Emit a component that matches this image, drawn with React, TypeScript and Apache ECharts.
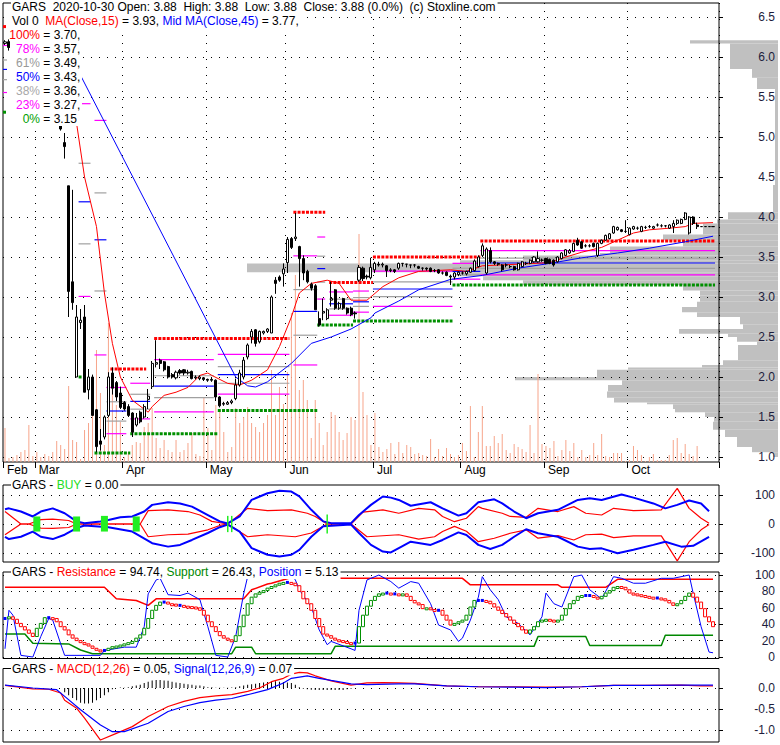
import React, { useEffect, useRef } from 'react';
import * as echarts from 'echarts';

const FONT = '"Liberation Sans", Arial, sans-serif';

const monthNames = ['Feb', 'Mar', 'Apr', 'May', 'Jun', 'Jul', 'Aug', 'Sep', 'Oct'];
const monthTradingDays = [8, 22, 21, 20, 22, 22, 21, 21, 22];

// [open, close, low, high]
const ohlc: number[][] = [
  [6.17,6.19,6.15,6.21],[6.19,6.12,6.08,6.22],[6.12,6.15,6.05,6.18],[6.15,6.05,6.0,6.16],[6.05,5.95,5.9,6.08],
  [5.95,5.8,5.72,5.98],[5.8,5.62,5.55,5.85],[5.62,5.7,5.5,5.75],[5.7,5.75,5.6,5.85],[5.75,5.65,5.6,5.8],
  [5.65,5.7,5.55,5.75],[5.7,5.55,5.5,5.72],[5.55,5.4,5.3,5.58],[5.4,5.3,5.2,5.45],[5.15,5.1,5.08,5.17],
  [4.93,4.88,4.73,5.05],[4.39,3.07,2.75,4.39],[3.19,2.93,2.84,4.34],[2.0,2.75,2.0,2.9],[2.68,2.71,2.6,2.85],
  [2.75,1.81,1.81,2.9],[1.84,2.0,1.72,2.1],[2.0,1.52,1.52,2.03],[1.59,1.13,1.06,1.6],[1.2,1.16,1.08,1.35],
  [1.25,1.5,1.22,1.52],[1.52,2.0,1.5,2.06],[2.05,1.86,1.78,2.12],[1.93,1.75,1.7,1.95],[1.8,1.62,1.6,1.88],
  [1.68,1.6,1.58,1.7],[1.63,1.52,1.5,1.66],[1.55,1.31,1.25,1.56],[1.4,1.49,1.38,1.55],[1.56,1.44,1.42,1.58],
  [1.5,1.63,1.48,1.66],[1.72,1.76,1.6,1.85],[1.88,2.17,1.85,2.2],[2.16,2.18,2.12,2.46],[2.21,2.17,2.1,2.23],
  [2.19,2.09,2.07,2.2],[2.13,2.0,1.98,2.14],[2.03,2.0,1.98,2.05],[1.99,2.06,1.97,2.08],[2.08,2.05,2.03,2.1],
  [2.09,2.05,2.02,2.1],[2.05,2.06,2.03,2.09],[2.07,1.98,1.97,2.08],[1.99,2.0,1.97,2.02],[1.98,2.0,1.96,2.02],
  [1.99,1.97,1.95,2.0],[1.97,1.96,1.94,1.98],[1.97,1.96,1.94,1.99],[1.96,1.75,1.7,1.97],[1.75,1.64,1.62,1.76],
  [1.66,1.67,1.64,1.69],[1.66,1.68,1.65,1.7],[1.68,1.7,1.66,1.72],[1.73,1.9,1.71,1.98],[1.9,2.05,1.88,2.09],
  [2.0,2.21,1.97,2.25],[2.25,2.4,2.22,2.42],[2.5,2.57,2.42,2.6],[2.59,2.42,2.38,2.6],[2.44,2.57,2.42,2.58],
  [2.55,2.57,2.53,2.58],[2.57,2.6,2.55,2.61],[2.55,3.0,2.55,3.02],[3.21,3.17,3.04,3.25],[3.25,3.21,3.19,3.27],
  [3.29,3.35,3.13,3.42],[3.43,3.72,3.3,3.75],[3.73,3.62,3.6,3.75],[3.73,3.75,3.7,4.05],[3.63,3.48,3.13,3.64],
  [3.48,3.3,3.21,3.52],[3.32,3.19,3.17,3.34],[3.16,3.11,3.08,3.18],[3.14,2.84,2.84,3.16],[2.73,2.65,2.63,2.82],
  [2.8,2.82,2.71,2.98],[2.73,2.84,2.71,2.86],[2.96,2.98,2.88,3.19],[3.09,2.86,2.84,3.1],[2.86,2.92,2.84,2.94],
  [2.98,2.86,2.84,2.99],[2.86,2.8,2.78,2.87],[2.86,2.78,2.76,2.88],[2.8,2.79,2.73,2.82],[3.21,3.37,3.19,3.4],
  [3.36,3.23,3.2,3.38],[3.26,3.25,3.22,3.28],[3.24,3.37,3.22,3.49],[3.34,3.42,3.3,3.44],[3.41,3.4,3.38,3.44],
  [3.4,3.41,3.37,3.43],[3.39,3.33,3.25,3.4],[3.33,3.34,3.31,3.36],[3.34,3.32,3.3,3.35],[3.36,3.42,3.34,3.43],
  [3.42,3.42,3.38,3.42],[3.41,3.41,3.37,3.41],[3.4,3.4,3.36,3.4],[3.4,3.4,3.37,3.41],[3.38,3.36,3.35,3.39],
  [3.36,3.36,3.33,3.37],[3.36,3.35,3.33,3.37],[3.36,3.32,3.31,3.37],[3.33,3.33,3.31,3.35],[3.34,3.3,3.29,3.35],
  [3.3,3.3,3.28,3.32],[3.31,3.27,3.26,3.32],[3.26,3.25,3.15,3.28],[3.25,3.3,3.22,3.31],[3.28,3.31,3.26,3.32],
  [3.3,3.3,3.28,3.32],[3.29,3.32,3.27,3.33],[3.31,3.36,3.3,3.37],[3.33,3.45,3.32,3.47],[3.38,3.5,3.37,3.52],
  [3.52,3.64,3.5,3.67],[3.3,3.6,3.28,3.62],[3.58,3.44,3.42,3.62],[3.44,3.42,3.4,3.45],[3.42,3.41,3.39,3.43],
  [3.4,3.34,3.32,3.41],[3.4,3.4,3.37,3.42],[3.38,3.38,3.36,3.4],[3.38,3.34,3.33,3.39],[3.34,3.42,3.33,3.43],
  [3.38,3.44,3.37,3.45],[3.42,3.42,3.4,3.44],[3.42,3.46,3.41,3.47],[3.44,3.5,3.43,3.51],[3.44,3.48,3.43,3.57],
  [3.46,3.46,3.44,3.48],[3.48,3.42,3.41,3.49],[3.47,3.42,3.41,3.48],[3.46,3.4,3.38,3.47],[3.44,3.5,3.43,3.51],
  [3.48,3.55,3.47,3.56],[3.52,3.59,3.51,3.6],[3.55,3.58,3.54,3.6],[3.57,3.67,3.56,3.68],[3.71,3.65,3.64,3.74],
  [3.69,3.61,3.6,3.7],[3.64,3.64,3.62,3.66],[3.64,3.64,3.62,3.66],[3.67,3.63,3.62,3.68],[3.52,3.67,3.5,3.68],
  [3.67,3.71,3.66,3.72],[3.71,3.77,3.7,3.78],[3.73,3.79,3.72,3.8],[3.8,3.88,3.79,3.89],[3.84,3.87,3.83,3.88],
  [3.84,3.82,3.81,3.85],[3.82,3.82,3.8,3.96],[3.78,3.86,3.77,3.87],[3.85,3.88,3.84,3.89],[3.86,3.86,3.84,3.88],
  [3.82,3.88,3.81,3.89],[3.87,3.87,3.85,3.89],[3.88,3.88,3.86,3.9],[3.86,3.88,3.85,3.89],[3.9,3.9,3.88,3.92],
  [3.89,3.89,3.87,3.91],[3.89,3.89,3.87,3.9],[3.86,3.9,3.85,3.91],[3.88,3.92,3.8,3.96],[3.92,3.96,3.9,3.97],
  [3.92,3.97,3.91,3.98],[3.97,4.05,3.96,4.06],[3.8,4.0,3.78,4.01],[4.0,3.92,3.9,4.01],[3.9,3.88,3.85,3.93],
  [3.88,3.88,3.88,3.88],[3.88,3.88,3.88,3.88],[3.88,3.88,3.88,3.88],[3.88,3.88,3.88,3.88],
];

// daily volume (thousand shares)
const volume: number[] = [
  34,4,5,7,10,12,37,6,10,5, 8,6,10,21,17,13,76,22,20,3,
  32,39,85,112,69,17,139,93,57,40, 5,10,17,20,19,35,39,54,24,14,
  22,12,10,22,10,12,19,29,8,6, 64,34,12,57,52,30,10,15,54,39,
  45,55,39,35,30,39,47,92,47,75, 58,90,149,187,72,82,62,24,62,39,
  17,30,50,47,30,22,29,45,42,228, 70,47,17,49,15,10,13,19,
  8,20,9,17,15,8,9,7,6,23, 5,13,6,14,8,5,7,19,11,56,
  5,30,56,16,16,26,19,28,12,9, 18,15,13,10,37,9,88,18,16,14,
  21,6,12,22,11,19,5,12,5,7, 19,7,28,6,5,9,9,9,1,2,
  16,12,7,1,5,8,2,2,2,7, 22,24,9,18,8,6,16,
  0,0,0,0,
];

// [dayIndex, value]
const ma15Points: number[][] = [
  [18,5.17],[20,4.5],[23,3.88],[25,3.05],[27,2.42],[29,2.0],[32,1.71],[36,1.56],[37,1.63],[40,1.77],
  [43,1.81],[46,1.87],[49,2.02],[51,2.05],[52,2.02],[56,1.92],[59,1.9],[62,1.96],[66,2.09],[69,2.38],
  [72,2.75],[74,3.05],[77,3.17],[81,3.21],[84,3.17],[87,2.96],[91,2.96],[95,3.13],[99,3.24],[104,3.32],
  [112,3.34],[116,3.32],[120,3.39],[129,3.41],[137,3.43],[141,3.5],[145,3.56],[150,3.62],[154,3.71],[158,3.8],
  [162,3.84],[167,3.86],[171,3.88],[173,3.92],[178,3.93],
];
const ma45Points: number[][] = [
  [19,5.77],[58,2.0],[61,1.89],[63,1.875],[66,1.94],[72,2.17],[77,2.42],[82,2.5],[87,2.6],[92,2.74],
  [93,2.8],[99,2.95],[104,3.09],[112,3.22],[120,3.27],[129,3.36],[137,3.42],[145,3.49],[154,3.55],[162,3.61],
  [171,3.69],[178,3.76],
];

// [startIdx, endIdx, 100% level, 0% level]
const fibSegments: number[][] = [
  [0,0,6.38,5.31],[19,21,6.38,2.0],[23,25,6.38,1.05],[26,30,2.10,1.05],[32,36,2.10,1.29],
  [38,52,2.48,1.29],[54,71,2.48,1.58],[73,78,4.06,1.58],[79,80,4.06,2.65],[82,87,3.18,2.65],
  [88,91,3.18,2.70],[93,112,3.50,2.70],[113,119,3.50,3.14],[120,178,3.70,3.15],
];
const fibRatios = [0.78, 0.61, 0.5, 0.38, 0.23];
const fibColors = ['#ff00ff', '#a0a0a0', '#0000ff', '#a0a0a0', '#ff00ff'];

// [startIdx, endIdx, price]
const resistanceLevels: number[][] = [
  [0,0,6.38],[19,25,6.38],[27,35,2.10],[38,71,2.48],[73,80,4.06],[82,92,3.18],[93,119,3.50],[120,178,3.70],
];
const supportLevels: number[][] = [
  [0,0,5.31],[19,19,2.0],[23,31,1.05],[32,53,1.29],[54,78,1.58],[79,87,2.65],[88,112,2.70],[113,178,3.15],
];

// [priceLow, priceHigh, volume]
const volumeProfile: number[][] = [
  [6.17,6.21,88],[5.85,6.17,48],[5.74,5.85,26],[5.60,5.74,21],[4.40,5.60,3],[4.06,4.40,5],
  [3.97,4.06,50],[3.92,3.97,61],[3.78,3.92,75],[3.71,3.78,115],[3.63,3.71,95],[3.55,3.63,168],
  [3.52,3.55,178],[3.46,3.52,255],[3.42,3.46,318],[3.31,3.42,531],[3.26,3.31,318],[3.21,3.26,295],
  [3.15,3.21,255],[3.08,3.15,95],[3.02,3.08,78],[2.94,3.02,78],[2.875,2.94,81],[2.81,2.875,96],
  [2.75,2.81,81],[2.66,2.75,38],[2.60,2.66,35],[2.54,2.60,99],[2.50,2.54,50],[2.44,2.50,41],
  [2.40,2.44,21],[2.21,2.40,40],[2.15,2.21,55],[2.12,2.15,76],[2.09,2.12,150],[2.0,2.09,181],
  [1.96,2.0,263],[1.90,1.96,156],[1.82,1.90,170],[1.74,1.82,171],[1.68,1.74,164],[1.66,1.68,131],
  [1.60,1.66,105],[1.56,1.60,103],[1.50,1.56,73],[1.44,1.50,64],[1.34,1.44,65],[1.25,1.34,53],
  [1.125,1.25,41],[1.06,1.125,26],[1.0,1.06,5],
];

// BUY panel
const buyBlueUpper: number[][] = [
  [0,51],[1,54],[4,43],[7,26],[9,43],[12,54],[15,37],[18,9],[20,3],[24,9],[26,14],[29,23],[32,26],[35,43],
  [37,66],[41,75],[44,71],[47,60],[51,31],[54,9],[56,2],[59,26],[62,83],[66,106],[69,115],[72,112],[74,95],
  [77,49],[80,9],[82,3],[87,3],[89,31],[92,66],[95,95],[97,91],[99,83],[102,63],[107,75],[110,54],[114,29],
  [116,37],[119,75],[123,85],[125,71],[128,43],[131,20],[134,37],[139,49],[144,83],[147,89],[150,83],[155,102],
  [158,91],[163,71],[166,54],[169,66],[172,81],[175,71],[177,44],
];
const buyBlueLower: number[][] = [
  [0,-44],[1,-52],[4,-44],[7,-26],[9,-44],[12,-52],[15,-37],[18,-14],[20,-5],[26,-11],[32,-26],[37,-66],
  [41,-78],[44,-72],[47,-55],[51,-31],[54,-11],[56,-2],[59,-26],[62,-83],[66,-106],[69,-112],[72,-106],[74,-89],
  [77,-44],[80,-8],[87,-2],[89,-31],[92,-72],[95,-95],[97,-98],[99,-83],[102,-61],[107,-72],[110,-55],[114,-29],
  [116,-38],[119,-72],[122,-86],[125,-72],[128,-44],[131,-18],[134,-32],[139,-44],[144,-78],[147,-86],[150,-84],
  [154,-101],[158,-89],[163,-72],[166,-61],[170,-78],[173,-75],[177,-44],
];
const buyRedUpper: number[][] = [
  [0,43],[4,0],[6,0],[9,15],[12,17],[16,12],[18,0],[34,0],[36,46],[41,49],[46,43],[49,31],[52,9],[56,0],
  [61,54],[66,46],[72,49],[76,37],[78,26],[81,0],[87,0],[90,41],[95,49],[99,37],[104,54],[108,49],[110,26],
  [113,8],[116,20],[119,60],[120,54],[125,37],[127,26],[131,23],[134,54],[139,43],[143,60],[146,37],[150,31],
  [153,54],[158,46],[165,49],[169,123],[172,54],[175,20],[177,3],
];
const buyRedLower: number[][] = [
  [0,-37],[4,0],[6,0],[9,-14],[12,-15],[16,-12],[18,0],[34,0],[36,-44],[41,-37],[46,-35],[51,-20],[54,-5],
  [56,0],[61,-44],[66,-37],[73,-44],[77,-31],[81,0],[87,0],[91,-44],[99,-37],[104,-52],[108,-44],[110,-26],
  [113,-8],[116,-25],[119,-61],[123,-49],[127,-32],[131,-20],[134,-49],[139,-40],[143,-55],[146,-37],[150,-35],
  [153,-47],[158,-41],[165,-41],[169,-127],[172,-61],[175,-20],[177,-2],
];
// [dayIndex, low, high]
const buySignals: number[][] = [[8,-26,26],[18,-26,26],[25,-26,28],[33,-26,26]];
const buyMarks: number[][] = [[56,-28,28],[57,-28,28],[81,-33,33]];

// Resistance / Support / Position panel
const oscillator: number[] = [
  47,49,46,41,37,33,29,25,35,41, 48,48,47,43,37,33,27,23,20,17.5,
  16,13.4,10.6,8.6,8,8,10.6,12.6,13.4,14.6, 16,17.5,19,23,27,35,47,57,63,67,
  67,65,64.5,63,63,62,61.5,61,60,57, 51,43,37,31,26,23,21,19,26,37,
  51,65,73,77,79,81,84,86,88,90, 91,91,90,87,80,71,65,57,47,37,
  28,26,23,21,20,19,17.5,17,17,37, 51,62,69,74,77,78,78,77,77,76,
  77,74,69,66,64,59,60,58,57,57, 51,45,39,41,43,45,51,61,69,69,
  69,68,65,61,57,53,49,45,41,37, 33,29,33,37,43,45,46,45,44,45,
  51,59,65,69,74,75,75,75,73,71, 74,78,81,85,86,85,82,78,77,76,
  75,74,73,72,72,71,69,66,63,65, 69,74,78,73,67,59,49,43,37,
];
const resistanceLine: number[][] = [
  [0,85],[25,85],[28,71],[33,69],[36,63],[38,71],[60,71],[62,82],[66,89],[67,90],[72,97],[85,96],
  [115,96],[117,88],[139,88],[140,85],[151,85],[154,94.74],[178,94.74],
];
const supportLine: number[][] = [
  [0,28],[5,28],[7,16.7],[16,16],[19,8.5],[22,4],[57,4],[58,12],[62,12],[63,4],[82,4],[83,13],
  [133,13],[134,25],[146,25],[147,14],[165,14],[166,26.43],[178,26.43],
];
const positionLine: number[][] = [
  [0,10],[1,57],[2,51],[4,2],[7,0],[9,25],[11,47],[12,45],[14,16],[15,2],[24,2],[25,8],[30,12],[33,12],
  [35,37],[36,77],[38,94],[39,96],[41,76],[44,75],[46,78],[49,70],[51,37],[53,2],[56,0],[58,25],[60,77],
  [61,98],[62,100],[72,100],[73,94],[74,82],[77,61],[79,33],[81,15],[82,19],[87,10],[88,8],[89,57],[91,94],
  [93,98],[94,100],[97,92],[99,84],[102,92],[104,90],[107,65],[109,39],[112,33],[114,19],[115,23],[117,45],
  [119,73],[120,98],[122,82],[124,70],[126,49],[129,41],[132,27],[135,49],[136,78],[138,65],[140,61],[143,98],
  [145,100],[147,82],[150,71],[153,98],[155,96],[158,90],[161,90],[165,96],[168,96],[172,100],[173,78],
  [175,37],[177,6],[178,5.13],
];

// MACD panel
const macdLine: number[][] = [
  [0,0.06],[7,-0.02],[11,-0.03],[14,-0.12],[15,-0.29],[18,-0.48],[20,-0.72],[24,-1.24],[28,-1.08],[32,-0.92],
  [36,-0.68],[41,-0.44],[45,-0.32],[49,-0.23],[53,-0.19],[57,-0.16],[61,-0.08],[64,0.0],[67,0.15],[70,0.23],
  [72,0.33],[74,0.37],[76,0.36],[78,0.29],[82,0.17],[87,0.07],[91,0.12],[95,0.13],[99,0.12],[103,0.11],
  [111,0.05],[119,0.03],[128,0.03],[136,0.02],[145,0.03],[153,0.06],[161,0.06],[170,0.07],[175,0.05],[178,0.05],
];
const signalLine: number[][] = [
  [0,0.07],[7,0.0],[13,-0.04],[15,-0.2],[19,-0.52],[24,-0.88],[27,-1.04],[30,-1.04],[36,-0.84],[41,-0.56],
  [45,-0.44],[49,-0.35],[53,-0.29],[57,-0.25],[61,-0.16],[66,-0.04],[70,0.12],[72,0.23],[76,0.29],[79,0.23],
  [82,0.18],[87,0.1],[91,0.08],[99,0.1],[103,0.1],[111,0.05],[119,0.03],[128,0.02],[136,0.01],[145,0.03],
  [153,0.06],[161,0.06],[170,0.07],[178,0.07],
];
const macdHist: number[] = [
  0,0,0,0,0,0,0,0,0,0, 0,0,0,0,0,-0.1,-0.17,-0.24,-0.29,-0.35,
  -0.37,-0.37,-0.35,-0.29,-0.24,-0.17,-0.1,-0.03,0,0.01, 0.005,0.02,0.04,0.06,0.08,0.12,0.15,0.18,0.19,0.19,
  0.18,0.17,0.15,0.13,0.12,0.1,0.09,0.08,0.06,0.06, 0.04,0.02,0.02,0.005,0.005,0.005,0.005,0.01,0.02,0.04,
  0.06,0.08,0.09,0.1,0.12,0.13,0.14,0.15,0.16,0.15, 0.14,0.13,0.12,0.08,0.02,-0.02,-0.03,-0.04,-0.05,-0.05,
  -0.05,-0.05,-0.05,-0.05,-0.05,-0.05,-0.03,-0.02,0,0, 0,0,0,0,0,0,0,0,0,0,
  0,0,0,0,0,0,0,0,0,0, 0,0,0,0,0,0,0,0,0,0,
  0,0,0,0,0,0,0,0,0,0, 0,0,0,0,0,0,0,0,0,0,
  0,0,0,0,0,0,0,0,0,0, 0,0,0,0,0,0,0,0,0,0,
  0,0,0,0,0,0,0,0,0,0, 0,0,0,0,0,0,0,0,0,
];

const priceTicks = [1.0, 1.5, 2.0, 2.5, 3.0, 3.5, 4.0, 4.5, 5.0, 5.5, 6.0, 6.5];
const buyAxisTicks = [-100, 0, 100];
const srpTicks = [0, 20, 40, 60, 80, 100];
const macdTicks = [-1.0, -0.5, 0.0];

function buildOption() {
  const categories: string[] = [];
  const monthStart = new Set<number>();
  monthNames.forEach((m, k) => {
    monthStart.add(categories.length);
    for (let d = 1; d <= monthTradingDays[k]; d++) categories.push(m + '-' + d);
  });
  categories.push('');

  const dotted = { color: '#000', type: [1, 7], width: 1 };
  const isMonth = (i: number) => monthStart.has(i);

  const rightAxis = (gridIndex: number, min: number, max: number, ticks: number[], fmt: (v: number) => string) => ({
    type: 'value', gridIndex, position: 'right', min, max,
    axisLine: { show: false },
    axisTick: { show: true, length: 4, inside: false, customValues: ticks, lineStyle: { color: '#000' } },
    axisLabel: { customValues: ticks, margin: 56, align: 'right', color: '#1c1c3c', fontSize: 12, fontFamily: FONT, formatter: fmt },
    splitLine: { show: true, lineStyle: dotted },
  });
  const hiddenCat = (gridIndex: number) => ({ type: 'category', gridIndex, data: categories, boundaryGap: true, show: false });
  const gridBox = { show: true, borderColor: '#000', borderWidth: 1, backgroundColor: 'transparent' };

  const line = (xi: number, yi: number, data: number[][], color: string, width: number, z = 3) => ({
    type: 'line', xAxisIndex: xi, yAxisIndex: yi, data, symbol: 'none', showSymbol: false, silent: true, z,
    lineStyle: { color, width }, emphasis: { disabled: true },
  });

  const markerSeries = (data: number[][], w: number) => ({
    type: 'custom', xAxisIndex: 2, yAxisIndex: 3, z: 5, silent: true, data,
    encode: { x: 0, y: [1, 2] },
    renderItem: (params: any, api: any) => {
      const i = api.value(0), lo = api.value(1), hi = api.value(2);
      const a = api.coord([i, hi]); const b = api.coord([i, lo]);
      return { type: 'rect', shape: { x: a[0] - w / 2, y: a[1], width: w, height: b[1] - a[1] }, style: { fill: '#22ee22' } };
    },
  });

  const levelData = [
    ...resistanceLevels.map((r) => [r[0], r[1], r[2], 0]),
    ...supportLevels.map((s) => [s[0], s[1], s[2], 1]),
  ];

  const oscData = oscillator.map((v, i) => [i, i > 0 ? oscillator[i - 1] : v, v]);

  const txtStyle = (extra: any) => ({
    font: '12px ' + FONT, fill: '#000', textVerticalAlign: 'middle', verticalAlign: 'middle', ...extra,
  });
  const rich = {
    r: { fill: '#ff0000', font: '12px ' + FONT },
    b: { fill: '#0000ff', font: '12px ' + FONT },
    g: { fill: '#008800', font: '12px ' + FONT },
    lg: { fill: '#22dd22', font: '12px ' + FONT },
  };
  const fibLegend = [
    ['100%', '#ff0000', '3.70,'],
    ['78%', '#ff00ff', '3.57,'],
    ['61%', '#999999', '3.49,'],
    ['50%', '#0000ff', '3.43,'],
    ['38%', '#a8a8a8', '3.36,'],
    ['23%', '#ff00ff', '3.27,'],
    ['0%', '#00a000', '3.15'],
  ];
  const graphics: any[] = [
    { type: 'text', x: 11, y: 7, z: 100, style: txtStyle({ text: 'GARS  2020-10-30 Open: 3.88  High: 3.88  Low: 3.88  Close: 3.88 (0.0%)  (c) Stoxline.com', backgroundColor: '#fff', padding: [1, 2, 1, 1] }) },
    { type: 'text', x: 11, y: 21, z: 100, style: txtStyle({ text: 'Vol 0  {r|MA(Close,15)} = 3.93, {b|Mid MA(Close,45)} = 3.77,', rich, backgroundColor: '#fff', padding: [1, 2, 1, 1] }) },
    { type: 'rect', z: 99, shape: { x: 10, y: 27, width: 72, height: 99 }, style: { fill: '#fff' } },
    { type: 'text', x: 11, y: 485, z: 100, style: txtStyle({ text: 'GARS - {lg|BUY} = 0.00', rich, backgroundColor: '#fff', padding: [1, 2, 1, 1] }) },
    { type: 'text', x: 11, y: 572, z: 100, style: txtStyle({ text: 'GARS - {r|Resistance} = 94.74, {g|Support} = 26.43, {b|Position} = 5.13', rich, backgroundColor: '#fff', padding: [1, 2, 1, 1] }) },
    { type: 'text', x: 11, y: 668.5, z: 100, style: txtStyle({ text: 'GARS - {r|MACD(12,26)} = 0.05, {b|Signal(12,26,9)} = 0.07', rich, backgroundColor: '#fff', padding: [1, 2, 1, 1] }) },
  ];
  fibLegend.forEach((f, k) => {
    const y = 34.5 + k * 14;
    graphics.push({ type: 'text', x: 40, y, z: 101, style: txtStyle({ text: f[0], fill: f[1], textAlign: 'right', align: 'right' }) });
    graphics.push({ type: 'text', x: 40, y, z: 101, style: txtStyle({ text: ' = ' + f[2] }) });
  });

  return {
    animation: false,
    backgroundColor: '#fff',
    grid: [
      { left: 3, top: 3, width: 716, height: 459, ...gridBox },
      { left: 245, top: 3, width: 533, height: 459, show: false },
      { left: 3, top: 485, width: 716, height: 77, ...gridBox },
      { left: 3, top: 572, width: 716, height: 86.5, ...gridBox },
      { left: 3, top: 668.5, width: 716, height: 73.5, ...gridBox },
    ],
    xAxis: [
      {
        type: 'category', gridIndex: 0, data: categories, boundaryGap: true,
        axisLine: { show: false },
        axisTick: { show: true, length: 6, interval: (i: number) => isMonth(i), lineStyle: { color: '#000' } },
        axisLabel: {
          interval: (i: number) => isMonth(i), formatter: (v: string) => v.split('-')[0],
          align: 'left', margin: 2, padding: [0, 0, 0, 2], color: '#000', fontSize: 12, fontFamily: FONT,
        },
        splitLine: { show: true, interval: (i: number) => isMonth(i) && i > 0, lineStyle: dotted },
      },
      { type: 'value', gridIndex: 1, min: 0, max: 533, inverse: true, show: false },
      hiddenCat(2), hiddenCat(3), hiddenCat(4),
    ],
    yAxis: [
      rightAxis(0, 0.9375, 6.675, priceTicks, (v: number) => v.toFixed(1)),
      { type: 'value', gridIndex: 0, min: 0, max: 459, show: false, position: 'left' },
      { type: 'value', gridIndex: 1, min: 0.9375, max: 6.675, show: false },
      rightAxis(2, -131, 134.5, buyAxisTicks, (v: number) => String(v)),
      rightAxis(3, -1.83, 103.7, srpTicks, (v: number) => String(v)),
      rightAxis(4, -1.286, 0.464, macdTicks, (v: number) => v.toFixed(1)),
    ],
    graphic: { elements: graphics },
    series: [
      {
        type: 'custom', xAxisIndex: 1, yAxisIndex: 2, z: -1, silent: true, data: volumeProfile,
        encode: { x: 2, y: [0, 1] },
        renderItem: (params: any, api: any) => {
          const lo = api.value(0), hi = api.value(1), v = api.value(2);
          const a = api.coord([v, hi]); const b = api.coord([0, lo]);
          return { type: 'rect', shape: { x: a[0], y: a[1], width: b[0] - a[0], height: b[1] - a[1] }, style: { fill: '#c0c0c0' } };
        },
      },
      {
        type: 'bar', xAxisIndex: 0, yAxisIndex: 1, data: volume, barWidth: 1, z: 1, silent: true,
        itemStyle: { color: '#f7a58b' },
      },
      {
        type: 'custom', xAxisIndex: 0, yAxisIndex: 0, z: 2, silent: true, data: fibSegments,
        encode: { x: [0, 1], y: [2, 3] },
        renderItem: (params: any, api: any) => {
          const s = api.value(0), e = api.value(1), hi = api.value(2), lo = api.value(3);
          const half = api.size([1, 0])[0] / 2;
          return {
            type: 'group',
            children: fibRatios.map((r, k) => {
              const p = lo + (hi - lo) * r;
              const a = api.coord([s, p]); const b = api.coord([e, p]);
              return { type: 'line', shape: { x1: a[0] - half, y1: a[1], x2: b[0] + half, y2: b[1] }, style: { stroke: fibColors[k], lineWidth: 1.2 } };
            }),
          };
        },
      },
      {
        type: 'custom', xAxisIndex: 0, yAxisIndex: 0, z: 2, silent: true, data: levelData,
        encode: { x: [0, 1], y: 2 },
        renderItem: (params: any, api: any) => {
          const s = api.value(0), e = api.value(1), p = api.value(2), kind = api.value(3);
          const half = api.size([1, 0])[0] / 2;
          const a = api.coord([s, p]); const b = api.coord([e, p]);
          return {
            type: 'line', shape: { x1: a[0] - half, y1: a[1], x2: b[0] + half, y2: b[1] },
            style: { stroke: kind ? '#009000' : '#ff0000', lineWidth: 3, lineDash: [3, 1.2] },
          };
        },
      },
      line(0, 0, ma15Points, '#ff0000', 1, 3),
      line(0, 0, ma45Points, '#0000ff', 1, 3),
      {
        type: 'candlestick', xAxisIndex: 0, yAxisIndex: 0, z: 4, data: ohlc, barWidth: 2.6, silent: true,
        itemStyle: { color: '#fff', color0: '#000', borderColor: '#000', borderColor0: '#000', borderColorDoji: '#000', borderWidth: 1 },
      },
      // BUY panel
      line(2, 3, buyRedUpper, '#ff0000', 1.2, 3),
      line(2, 3, buyRedLower, '#ff0000', 1.2, 3),
      line(2, 3, buyBlueUpper, '#0000ff', 2, 4),
      line(2, 3, buyBlueLower, '#0000ff', 2, 4),
      markerSeries(buySignals, 7),
      markerSeries(buyMarks, 1.5),
      // Resistance / Support / Position panel
      line(3, 4, resistanceLine, '#ff0000', 1.5, 3),
      line(3, 4, supportLine, '#008800', 1.5, 3),
      line(3, 4, positionLine, '#0000ff', 1, 4),
      {
        type: 'custom', xAxisIndex: 3, yAxisIndex: 4, z: 5, silent: true, data: oscData,
        encode: { x: 0, y: [1, 2] },
        renderItem: (params: any, api: any) => {
          const i = api.value(0), p = api.value(1), c = api.value(2);
          const a = api.coord([i, p]); const b = api.coord([i, c]);
          const d = c - p;
          if (Math.abs(d) < 0.5) {
            return { type: 'rect', shape: { x: b[0] - 1.5, y: b[1] - 1.5, width: 3, height: 3 }, style: { fill: '#0000ff' } };
          }
          const top = Math.min(a[1], b[1]);
          const h = Math.max(Math.abs(a[1] - b[1]), 2);
          return { type: 'rect', shape: { x: b[0] - 1.5, y: top, width: 3, height: h }, style: { fill: '#fff', stroke: d > 0 ? '#009000' : '#ff0000', lineWidth: 1 } };
        },
      },
      // MACD panel
      {
        type: 'bar', xAxisIndex: 4, yAxisIndex: 5, data: macdHist, barWidth: 1, z: 2, silent: true,
        itemStyle: { color: '#000' },
      },
      line(4, 5, macdLine, '#ff0000', 1.2, 3),
      line(4, 5, signalLine, '#0000ff', 1.2, 3),
    ],
  };
}

export default function App() {
  const ref = useRef<HTMLDivElement>(null);
  useEffect(() => {
    if (!ref.current) return;
    const chart = echarts.init(ref.current, undefined, { renderer: 'svg' });
    chart.setOption(buildOption() as any);
    return () => chart.dispose();
  }, []);
  return <div ref={ref} style={{ position: 'absolute', left: 0, top: 0, width: 780, height: 745, background: '#fff' }} />;
}
